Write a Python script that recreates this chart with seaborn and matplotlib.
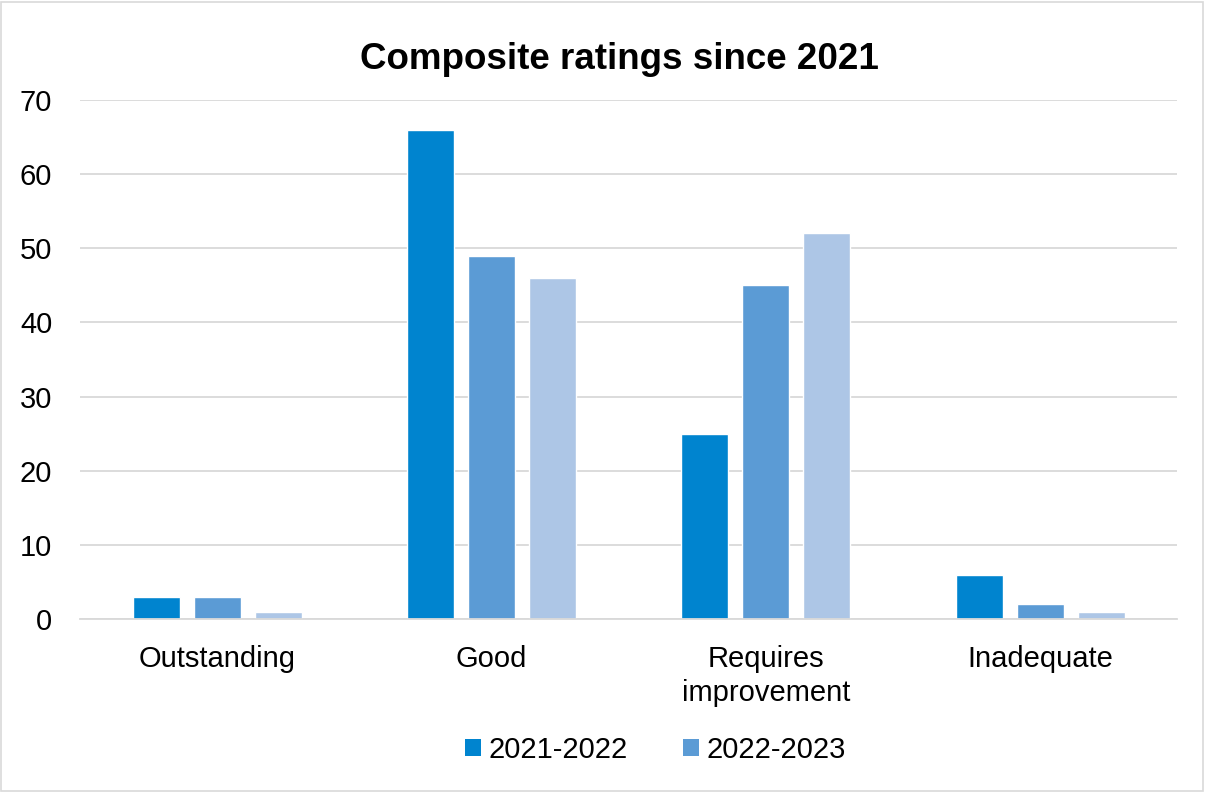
import matplotlib

matplotlib.use("Agg")
import matplotlib.pyplot as plt
import pandas as pd
import seaborn as sns
from matplotlib.patches import Patch, Rectangle

CATEGORIES = ["Outstanding", "Good", "Requires\nimprovement", "Inadequate"]
SERIES = ["2021-2022", "2022-2023", "2023-2024"]
VALUES_2021 = [3, 66, 25, 6]
VALUES_2022 = [3, 49, 45, 2]
VALUES_2023 = [1, 46, 52, 1]
COLORS = ["#0084CF", "#5B9BD5", "#ADC6E6"]
YTICKS = [0, 10, 20, 30, 40, 50, 60, 70]


def build_frame() -> pd.DataFrame:
    rows = []
    for series, values in zip(SERIES, [VALUES_2021, VALUES_2022, VALUES_2023]):
        for category, value in zip(CATEGORIES, values):
            rows.append({"category": category, "series": series, "value": value})
    return pd.DataFrame(rows)


def main() -> None:
    sns.set_theme(style="white")
    plt.rcParams["font.family"] = ["Liberation Sans", "DejaVu Sans"]
    plt.rcParams["text.color"] = "black"
    df = build_frame()

    fig = plt.figure(figsize=(12.05, 7.92), dpi=100)
    ax = fig.add_axes([0.0664, 0.2184, 0.9106, 0.6553])

    sns.barplot(
        data=df, x="category", y="value", hue="series", order=CATEGORIES,
        hue_order=SERIES, palette=COLORS, width=0.667, gap=0.23,
        saturation=1, legend=False, ax=ax,
    )

    ax.set_xlim(-0.5, 3.5)
    ax.set_ylim(0, 70)
    ax.set_yticks(YTICKS)
    ax.yaxis.grid(True, color="#D9D9D9", linewidth=1.3)
    ax.set_axisbelow(True)
    for side in ["left", "right", "top"]:
        ax.spines[side].set_visible(False)
    ax.spines["bottom"].set_color("#D9D9D9")
    ax.spines["bottom"].set_linewidth(1.3)
    ax.tick_params(axis="both", length=0, labelsize=21, colors="black")
    ax.tick_params(axis="x", pad=18.5)
    ax.tick_params(axis="y", pad=20)
    for label in ax.get_xticklabels():
        label.set_linespacing(1.3)
    ax.set_xlabel("")
    ax.set_ylabel("")

    fig.text(0.5137, 0.925, "Composite ratings since 2021", ha="center", va="center",
             fontsize=26.5, fontweight="bold", color="black")

    handles = [Patch(facecolor=c, edgecolor="none") for c in COLORS[:2]]
    fig.legend(handles, SERIES[:2], loc="center", bbox_to_anchor=(0.5436, 0.053),
               ncol=2, frameon=False, fontsize=21, handlelength=0.55,
               handleheight=0.55, handletextpad=0.25, columnspacing=1.9,
               labelcolor="black")

    fig.patches.append(Rectangle((0.001, 0.001), 0.997, 0.997, transform=fig.transFigure,
                                 fill=False, edgecolor="#D9D9D9", linewidth=1.2))

    fig.savefig("out.png", dpi=100)
    plt.close(fig)


if __name__ == "__main__":
    main()
